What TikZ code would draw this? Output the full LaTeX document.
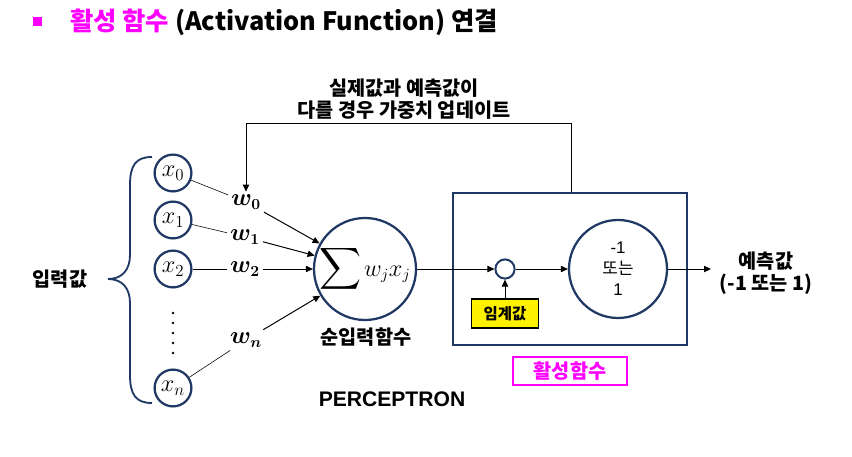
\documentclass[tikz,border=0pt]{standalone}
\usepackage{amsmath,bm}
\usepackage{fontspec}
\setmainfont{Liberation Sans}
\newfontfamily\kr{Noto Sans CJK KR}
\usetikzlibrary{arrows.meta,positioning,shapes}
\definecolor{navy}{HTML}{1F3864}
\definecolor{mag}{HTML}{FF00FF}
\tikzset{
  arr/.style={-{Triangle[length=5pt,width=4.5pt]}, line width=0.7pt},
  inp/.style={draw=navy, circle, line width=1.6pt, minimum size=0.92cm, inner sep=0pt, font=\fontsize{17}{20}\selectfont},
  wlab/.style={inner sep=2pt, font=\fontsize{16}{19}\selectfont},
  krbold/.style={font=\kr\bfseries\fontsize{14}{16}\selectfont, align=center}
}
\begin{document}
\begin{tikzpicture}[x=0.025cm, y=-0.025cm]
\useasboundingbox (0,0) rectangle (852,457);

% Title
\fill[mag] (33,17) rectangle (42,26);
\node[anchor=west, inner sep=0pt, font=\kr\bfseries\fontsize{18}{22}\selectfont] (title) at (70,22)
  {\textcolor{mag}{활성 함수} (Activation Function) 연결};

% Inputs
\node[inp] (x0) at (173,173) {$x_0$};
\node[inp] (x1) at (173,220) {$x_1$};
\node[inp] (x2) at (173,269) {$x_2$};
\node[inp] (xn) at (173,388) {$x_n$};
\foreach \y in {313,323,333,343,353} \fill (173,\y) circle (0.9pt);
\draw[navy, line width=1.3pt] (152,157) .. controls (136,157) and (130,165) .. (130,185) -- (130,255)
  .. controls (130,270) and (122,279) .. (108,279) .. controls (122,279) and (130,288) .. (130,303)
  -- (130,375) .. controls (130,395) and (136,403) .. (152,403);
\node[krbold] (inlab) at (60,279) {입력값};

% Weights
\node[wlab] (w0) at (246,202) {$\bm{w_0}$};
\node[wlab] (w1) at (245,237) {$\bm{w_1}$};
\node[wlab] (w2) at (245,269) {$\bm{w_2}$};
\node[wlab] (wn) at (246,340) {$\bm{w_n}$};

% Net input
\node[draw=navy, circle, line width=1.6pt, minimum size=2.42cm, inner sep=0pt] (sum) at (365,269)
  {{\fontsize{21}{25}\selectfont$\displaystyle\sum$}\,{\fontsize{16}{19}\selectfont$w_j x_j$}};
\node[krbold] (netlab) at (366,337) {순입력함수};

\draw (x0) -- (w0);
\draw (x1) -- (w1);
\draw (x2) -- (w2);
\draw (xn) -- (wn);
\draw[arr] (w0) -- (sum);
\draw[arr] (w1) -- (sum);
\draw[arr] (w2) -- (sum);
\draw[arr] (wn) -- (sum);

% Activation function
\node[draw=navy, line width=1.4pt, minimum width=5.85cm, minimum height=3.8cm] (act) at (570,269) {};
\node[draw=navy, circle, line width=1.4pt, minimum size=0.48cm, inner sep=0pt] (thr) at (505,269) {};
\node[draw=navy, circle, line width=1.6pt, minimum size=2.45cm, inner sep=0pt, align=center,
  font=\fontsize{12}{15}\selectfont] (out) at (618,269) {-1\\{\kr 또는}\\1};
\node[draw, fill=yellow, line width=1.2pt, minimum width=1.68cm, minimum height=0.73cm, inner sep=0pt,
  font=\kr\bfseries\fontsize{11}{13}\selectfont] (thrbox) at (505,313.5) {임계값};
\node[draw=mag, line width=1.4pt, minimum width=2.85cm, minimum height=0.7cm, inner sep=0pt,
  krbold, text=mag] (actlab) at (570,371) {활성함수};

\draw[arr] (sum) -- (thr);
\draw[arr] (thr) -- (out);
\draw[arr] (thrbox) -- (thr);

% Output
\node[krbold, inner sep=6pt] (pred) at (766,273) {예측값\\(-1 또는 1)};
\draw[arr] (out.east) -- (out.east -| pred.west);

% Feedback
\coordinate (fbR) at (571,123);
\coordinate (fbL) at (246,123);
\draw[arr] (fbR |- act.north) -- (fbR) -- (fbL) -- (w0);
\node[krbold] (fblab) at (404,99) {실제값과 예측값이\\다를 경우 가중치 업데이트};

\node[font=\bfseries\fontsize{15}{18}\selectfont] (perc) at (392,399) {PERCEPTRON};
\end{tikzpicture}
\end{document}
